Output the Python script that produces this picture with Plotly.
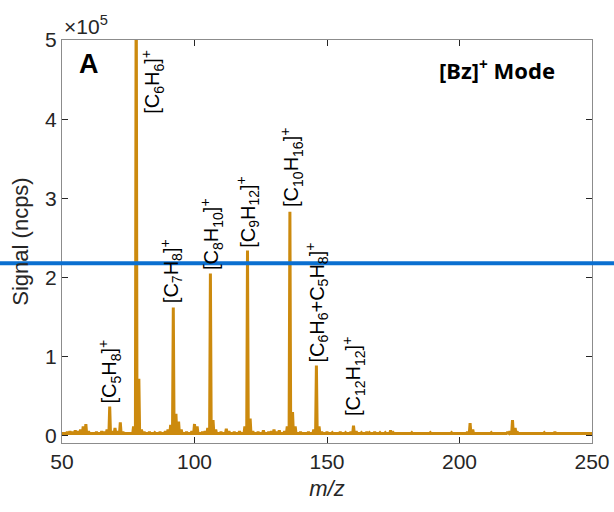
import plotly.graph_objects as go

# peak list (m/z, signal in ncps)
peak_mz = [50, 52, 53, 54, 55, 56, 57, 58, 59, 60, 63, 65, 66, 67, 68, 69, 70, 71, 72, 73,
           77, 78, 79, 80, 81, 83, 85, 87, 89, 90, 91, 92, 93, 94, 95, 97, 99, 100, 101,
           103, 104, 105, 106, 107, 108, 110, 112, 113, 115, 117, 119, 120, 121, 122, 124,
           126, 128, 129, 130, 131, 132, 134, 135, 136, 137, 138, 140, 143, 145, 146, 147,
           148, 150, 152, 155, 157, 159, 160, 161, 163, 165, 166, 168, 170, 172, 174, 175,
           178, 182, 186, 189, 192, 197, 200, 203, 204, 205, 208, 212, 215, 218, 219, 220,
           221, 222, 226, 230, 232, 236, 240, 245, 250]
peak_k = [3, 5, 6, 5, 7, 6, 8, 12, 15, 6, 5, 6, 5, 8, 37, 6, 10, 6, 17, 5,
          12, 620, 72, 8, 5, 5, 4, 5, 6, 8, 14, 162, 28, 18, 8, 5, 6, 15, 12,
          5, 6, 10, 205, 20, 8, 5, 9, 6, 5, 6, 12, 234, 22, 6, 5,
          7, 5, 6, 8, 5, 7, 6, 12, 283, 30, 12, 5, 5, 8, 89, 12,
          5, 5, 4, 5, 4, 5, 13, 6, 4, 5, 4, 5, 4, 4, 7, 4,
          3, 4, 3, 4, 3, 4, 3, 5, 16, 8, 3, 4, 3, 4, 6, 20,
          10, 4, 3, 3, 4, 5, 3, 3, 3]
baseline = 3000

# label text, m/z position, signal position
labels = [
    ("[C<sub>5</sub>H<sub>8</sub>]<sup>+</sup>", 68, 38000, "bottom"),
    ("[C<sub>6</sub>H<sub>6</sub>]<sup>+</sup>", 84.3, 490000, "top"),
    ("[C<sub>7</sub>H<sub>8</sub>]<sup>+</sup>", 91.1, 165000, "bottom"),
    ("[C<sub>8</sub>H<sub>10</sub>]<sup>+</sup>", 106.6, 207000, "bottom"),
    ("[C<sub>9</sub>H<sub>12</sub>]<sup>+</sup>", 120.2, 235000, "bottom"),
    ("[C<sub>10</sub>H<sub>16</sub>]<sup>+</sup>", 136.8, 286000, "bottom"),
    ("[C<sub>6</sub>H<sub>6</sub>+C<sub>5</sub>H<sub>8</sub>]<sup>+</sup>", 146.2, 90000, "bottom"),
    ("[C<sub>12</sub>H<sub>12</sub>]<sup>+</sup>", 160.2, 22000, "bottom"),
]

y_ticks = [0, 1, 2, 3, 4, 5]
y_min, y_max = -9000, 500000
blue_y = 218000

xs, ys = [], []
for m, h in zip(peak_mz, peak_k):
    xs += [m - 0.3, m, m + 0.3]
    ys += [baseline, h * 1000, baseline]

fig = go.Figure()
fig.add_trace(go.Scatter(x=xs, y=ys, mode="lines",
                         line=dict(color="#CC8A0E", width=3), showlegend=False))

for txt, x, y, anc in labels:
    fig.add_annotation(x=x, y=y, text=txt, textangle=-90, showarrow=False,
                       xanchor="center", yanchor=anc,
                       font=dict(family="Liberation Sans", size=20, color="black"))

fig.add_annotation(xref="paper", yref="paper", x=0.051, y=0.94, xanchor="center",
                   yanchor="middle", text="<b>A</b>", showarrow=False,
                   font=dict(family="Liberation Sans", size=27, color="black"))
fig.add_annotation(xref="paper", yref="paper", x=0.821, y=0.928, xanchor="center",
                   yanchor="middle", text="<b>[Bz]<sup>+</sup> Mode</b>", showarrow=False,
                   font=dict(family="Noto Sans", size=22, color="black"))
fig.add_annotation(xref="paper", yref="paper", x=0, y=1, xanchor="left", yanchor="bottom",
                   text="×10<sup>5</sup>", showarrow=False,
                   font=dict(family="Liberation Sans", size=21, color="#262626"))

# horizontal blue marker line across the whole picture
yp = (blue_y - y_min) / (y_max - y_min)
fig.add_shape(type="line", xref="paper", yref="paper", x0=-62 / 530, x1=552 / 530,
              y0=yp, y1=yp, line=dict(color="#0A6FD0", width=4))

axis_common = dict(showline=True, mirror="ticks", linecolor="#8c8c8c", linewidth=1,
                   ticks="inside", ticklen=6, tickcolor="#262626", showgrid=False,
                   zeroline=False, automargin=False,
                   tickfont=dict(family="Liberation Sans", size=21, color="#262626"))

fig.update_xaxes(range=[50, 250], tickvals=[50, 100, 150, 200, 250],
                 title=dict(text="<i>m/z</i>", standoff=8,
                            font=dict(family="Liberation Sans", size=22, color="#262626")),
                 **axis_common)
fig.update_yaxes(range=[y_min, y_max], tickvals=[t * 1e5 for t in y_ticks],
                 ticktext=[str(t) for t in y_ticks],
                 title=dict(text="Signal (ncps)", standoff=10,
                            font=dict(family="Liberation Sans", size=22, color="#262626")),
                 **axis_common)

fig.update_layout(width=614, height=512, plot_bgcolor="white", paper_bgcolor="white",
                  margin=dict(l=62, r=22, t=40, b=69))

# drop the page's default body margin so the figure sits at the window corner
fig.write_html("out.html", config={"displayModeBar": False},
               post_script="document.body.style.margin='0';")
